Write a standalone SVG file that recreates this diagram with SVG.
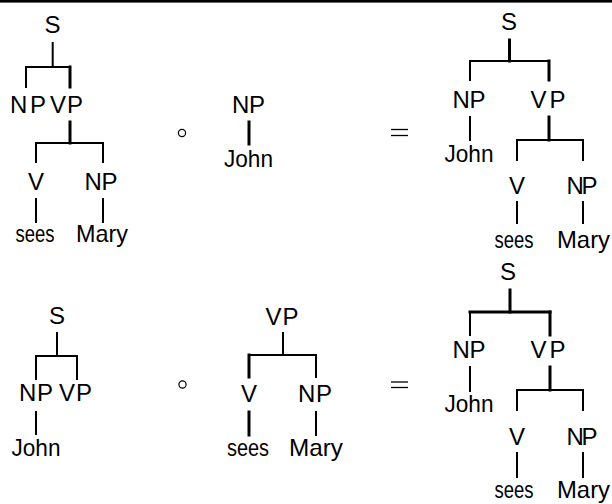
<svg xmlns="http://www.w3.org/2000/svg" width="612" height="504" viewBox="0 0 612 504">
  <style>
    text { font-family: "Liberation Sans", "DejaVu Sans", sans-serif; font-size: 24px; fill: #000; text-anchor: middle; }
    line { stroke: #000; stroke-width: 2; stroke-linecap: square; }
    line.head { stroke-width: 3; }
    .op { fill: none; stroke: #000; stroke-width: 1.2; }
    .eq { stroke: #000; stroke-width: 1.3; stroke-linecap: butt; }
  </style>
  <rect x="0" y="0" width="612" height="2.6" fill="#000"/>

  <!-- tree: S -> NP VP, VP -> V NP -->
  <g id="tree1">
    <text x="52.5" y="33">S</text>
    <text x="28" y="113" textLength="36" lengthAdjust="spacing">NP</text>
    <text x="66.5" y="113" textLength="33" lengthAdjust="spacing">VP</text>
    <text x="36" y="190">V</text>
    <text x="101" y="190" textLength="33" lengthAdjust="spacing">NP</text>
    <text x="35" y="242" textLength="39" lengthAdjust="spacingAndGlyphs">sees</text>
    <text x="102" y="242" textLength="52" lengthAdjust="spacingAndGlyphs">Mary</text>
  </g>
  <g id="tree2">
    <text x="248.5" y="113" textLength="33" lengthAdjust="spacing">NP</text>
    <text x="248.5" y="167" textLength="49" lengthAdjust="spacingAndGlyphs">John</text>
  </g>
  <g id="tree3">
    <text x="509" y="30">S</text>
    <text x="469" y="108" textLength="33" lengthAdjust="spacing">NP</text>
    <text x="548" y="108" textLength="35" lengthAdjust="spacing">VP</text>
    <text x="469" y="162" textLength="49" lengthAdjust="spacingAndGlyphs">John</text>
    <text x="517" y="194">V</text>
    <text x="582" y="194" textLength="31" lengthAdjust="spacing">NP</text>
    <text x="514" y="248" textLength="39" lengthAdjust="spacingAndGlyphs">sees</text>
    <text x="557" y="248" style="text-anchor:start" textLength="53" lengthAdjust="spacingAndGlyphs">Mary</text>
  </g>
  <g id="tree4">
    <text x="57" y="324">S</text>
    <text x="36" y="401" textLength="34" lengthAdjust="spacing">NP</text>
    <text x="75.5" y="401" textLength="33" lengthAdjust="spacing">VP</text>
    <text x="36" y="456" textLength="49" lengthAdjust="spacingAndGlyphs">John</text>
  </g>
  <g id="tree5">
    <text x="282" y="325" textLength="33" lengthAdjust="spacing">VP</text>
    <text x="249" y="402">V</text>
    <text x="315" y="402" textLength="34" lengthAdjust="spacing">NP</text>
    <text x="248" y="456" textLength="42" lengthAdjust="spacingAndGlyphs">sees</text>
    <text x="316" y="456" textLength="54" lengthAdjust="spacingAndGlyphs">Mary</text>
  </g>
  <g id="tree6">
    <text x="508" y="280">S</text>
    <text x="469" y="358" textLength="33" lengthAdjust="spacing">NP</text>
    <text x="548" y="358" textLength="35" lengthAdjust="spacing">VP</text>
    <text x="469" y="412" textLength="49" lengthAdjust="spacingAndGlyphs">John</text>
    <text x="517" y="445">V</text>
    <text x="582" y="445" textLength="31" lengthAdjust="spacing">NP</text>
    <text x="514" y="498" textLength="39" lengthAdjust="spacingAndGlyphs">sees</text>
    <text x="557" y="498" style="text-anchor:start" textLength="53" lengthAdjust="spacingAndGlyphs">Mary</text>
  </g>

  <!-- composition and equality operators -->
  <g id="operators">
    <circle class="op" cx="182" cy="133" r="3.6"/>
    <line class="eq" x1="391" y1="129.5" x2="408" y2="129.5"/>
    <line class="eq" x1="391" y1="135.5" x2="408" y2="135.5"/>
    <circle class="op" cx="182.5" cy="384.5" r="3.6"/>
    <line class="eq" x1="391" y1="382" x2="408" y2="382"/>
    <line class="eq" x1="391" y1="387.5" x2="408" y2="387.5"/>
  </g>

  <!-- tree branches -->
  <g id="connectors">
    <!-- tree1 -->
    <line x1="52.7" y1="43" x2="52.7" y2="67"/>
    <line x1="26" y1="67" x2="70" y2="67"/>
    <line x1="26" y1="67" x2="26" y2="87"/>
    <line class="head" x1="70" y1="67" x2="70" y2="87"/>
    <line class="head" x1="70" y1="122" x2="70" y2="143"/>
    <line x1="36" y1="143" x2="103" y2="143"/>
    <line x1="36" y1="143" x2="36" y2="162"/>
    <line x1="103" y1="143" x2="103" y2="162"/>
    <line x1="36" y1="199" x2="36" y2="222"/>
    <line x1="103" y1="199" x2="103" y2="222"/>
    <!-- tree2 -->
    <line class="head" x1="249" y1="122" x2="249" y2="144"/>
    <!-- tree3 -->
    <line class="head" x1="509.5" y1="40" x2="509.5" y2="61"/>
    <line x1="470" y1="61" x2="549" y2="61"/>
    <line x1="470" y1="61" x2="470" y2="80"/>
    <line class="head" x1="549" y1="61" x2="549" y2="80"/>
    <line x1="470" y1="117" x2="470" y2="140"/>
    <line class="head" x1="549" y1="117" x2="549" y2="140"/>
    <line x1="517" y1="140" x2="583" y2="140"/>
    <line x1="517" y1="140" x2="517" y2="160"/>
    <line x1="583" y1="140" x2="583" y2="160"/>
    <line x1="517" y1="202" x2="517" y2="223"/>
    <line x1="583" y1="202" x2="583" y2="223"/>
    <!-- tree4 -->
    <line x1="57" y1="333" x2="57" y2="356"/>
    <line x1="36" y1="356" x2="77" y2="356"/>
    <line x1="36" y1="356" x2="36" y2="379"/>
    <line x1="77" y1="356" x2="77" y2="379"/>
    <line x1="36" y1="412" x2="36" y2="434"/>
    <!-- tree5 -->
    <line x1="283" y1="333" x2="283" y2="355"/>
    <line x1="249" y1="355" x2="316" y2="355"/>
    <line class="head" x1="249" y1="355" x2="249" y2="377"/>
    <line x1="316" y1="355" x2="316" y2="377"/>
    <line class="head" x1="249" y1="412" x2="249" y2="435"/>
    <line x1="316" y1="412" x2="316" y2="435"/>
    <!-- tree6 -->
    <line class="head" x1="510" y1="290" x2="510" y2="312"/>
    <line class="head" x1="470" y1="312" x2="550" y2="312"/>
    <line x1="470" y1="312" x2="470" y2="335"/>
    <line class="head" x1="550" y1="312" x2="550" y2="335"/>
    <line x1="470" y1="367" x2="470" y2="391"/>
    <line class="head" x1="550" y1="367" x2="550" y2="390"/>
    <line x1="517" y1="390" x2="583" y2="390"/>
    <line x1="517" y1="390" x2="517" y2="410"/>
    <line x1="583" y1="390" x2="583" y2="410"/>
    <line x1="517" y1="453" x2="517" y2="477"/>
    <line x1="583" y1="453" x2="583" y2="477"/>
  </g>
</svg>
